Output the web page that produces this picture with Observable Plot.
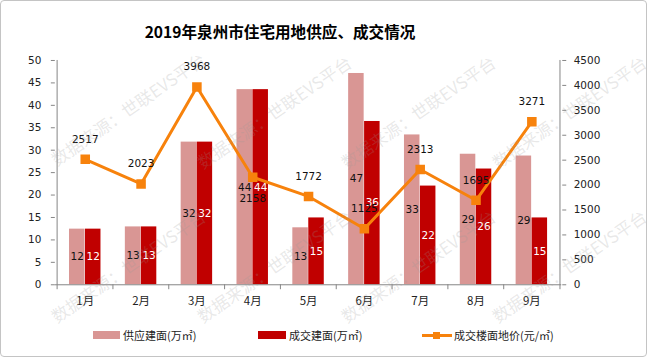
<!DOCTYPE html>
<html>
<head>
<meta charset="utf-8">
<script src="https://cdn.jsdelivr.net/npm/d3@7"></script>
<script src="https://cdn.jsdelivr.net/npm/@observablehq/plot@0.6"></script>
<style>
  html, body { margin: 0; padding: 0; background: #fff; }
  #wrap { position: relative; width: 647px; height: 357px; box-sizing: border-box; border: 1px solid #c4c4c4; border-radius: 4px; overflow: hidden; font-family: "Noto Sans CJK SC", "DejaVu Sans", sans-serif; }
  #title { position: absolute; left: 0; width: 558px; text-align: center; top: 19px; font-size: 15.6px; font-weight: bold; color: #000; }
  #chart { position: absolute; left: 0; top: 50px; }
  .lg { position: absolute; font-size: 11px; color: #222; top: 326px; line-height: 16px; }
  .sw { position: absolute; }
  .wm { position: absolute; font-size: 17px; line-height: 18px; white-space: nowrap; color: rgba(150,150,150,0.22); transform-origin: 0 50%; transform: rotate(-34.7deg); pointer-events: none; font-family: "Noto Sans CJK SC", sans-serif; }
</style>
</head>
<body>
<div id="wrap">
  <div id="title">2019年泉州市住宅用地供应、成交情况</div>
  <div id="chart"></div>
  <div class="sw" style="left:92px; top:330px; width:27px; height:8px; background:#D99694"></div>
  <div class="lg" style="left:122px">供应建面(万㎡)</div>
  <div class="sw" style="left:257px; top:330px; width:28px; height:8px; background:#C00000"></div>
  <div class="lg" style="left:288px">成交建面(万㎡)</div>
  <div class="sw" style="left:421px; top:333px; width:30px; height:3px; background:#F7820C"></div>
  <div class="sw" style="left:432px; top:331px; width:7px; height:7px; background:#F7820C"></div>
  <div class="lg" style="left:453px">成交楼面地价(元/㎡)</div>
</div>
<script>
const months = ["1月","2月","3月","4月","5月","6月","7月","8月","9月"];
const supply = [12.4, 12.9, 31.8, 43.5, 12.7, 47.1, 33.4, 29.1, 28.7];
const deal   = [12.4, 12.9, 31.8, 43.5, 14.9, 36.4, 22.0, 25.8, 14.9];
const price  = [2517, 2023, 3968, 2158, 1772, 1125, 2313, 1695, 3271];
const leftTicks = [0,5,10,15,20,25,30,35,40,45,50];
const rightTicks = [0,500,1000,1500,2000,2500,3000,3500,4000,4500];
const priceLabelBelow = ["4月"];
const watermark = "数据来源：世联EVS平台";
const priceRatio = 90; // 4500 / 50

const rows = months.map((m, i) => ({month: m, supply: supply[i], deal: deal[i], price: price[i]}));

const W = 647, ML = 54, MR = 85;
const half = (W - ML - MR) / months.length / 2;
const bw = 16;
const axisColor = "#868686";
const orange = "#F7820C";

const chart = Plot.plot({
  width: W, height: 266,
  marginLeft: ML, marginRight: MR, marginTop: 9, marginBottom: 32,
  x: {domain: months, padding: 0, axis: null},
  y: {domain: [0, 50], axis: null},
  style: {fontFamily: "'DejaVu Sans', sans-serif", fontSize: "10.5px", color: "#222", background: "transparent", overflow: "visible"},
  marks: [
    Plot.barY(rows, {x: "month", y: "supply", fill: "#D99694", insetLeft: half - bw, insetRight: half}),
    Plot.barY(rows, {x: "month", y: "deal", fill: "#C00000", insetLeft: half, insetRight: half - bw}),
    Plot.text(rows, {x: "month", y: d => d.supply / 2, text: d => String(Math.round(d.supply)), dx: -8, fill: "#111", fontSize: 10.5}),
    Plot.text(rows, {x: "month", y: d => d.deal / 2, text: d => String(Math.round(d.deal)), dx: 8, fill: "#fff", fontSize: 10.5}),
    Plot.line(rows, {x: "month", y: d => d.price / priceRatio, stroke: orange, strokeWidth: 3}),
    Plot.dot(rows, {x: "month", y: d => d.price / priceRatio, symbol: "square", r: 5.4, fill: orange}),
    Plot.text(rows.filter(d => !priceLabelBelow.includes(d.month)), {x: "month", y: d => d.price / priceRatio, text: d => String(d.price), dy: -20, fill: "#111", fontSize: 10.5}),
    Plot.text(rows.filter(d => priceLabelBelow.includes(d.month)), {x: "month", y: d => d.price / priceRatio, text: d => String(d.price), dy: 22, fill: "#111", fontSize: 10.5}),
    // axis lines
    Plot.ruleY([0], {stroke: axisColor}),
    Plot.ruleX([months[0]], {dx: -half, y1: 0, y2: 50, stroke: axisColor}),
    Plot.ruleX([months[months.length - 1]], {dx: half, y1: 0, y2: 50, stroke: axisColor}),
    Plot.ruleX(months, {dx: -half, y1: 0, y2: -1.1, stroke: axisColor}),
    Plot.ruleX([months[months.length - 1]], {dx: half, y1: 0, y2: -1.1, stroke: axisColor}),
    Plot.axisY({anchor: "left", ticks: leftTicks, tickSize: 4, tickPadding: 10, stroke: axisColor, fill: "#222", label: null}),
    Plot.axisY({anchor: "right", ticks: rightTicks.map(v => v / priceRatio), tickFormat: d => String(Math.round(d * priceRatio)), tickSize: 4, tickPadding: 8, stroke: axisColor, fill: "#222", label: null}),
    Plot.axisX({anchor: "bottom", tickSize: 0, tickPadding: 12, fontFamily: "'Noto Sans CJK SC', sans-serif", fontSize: 11.5, fill: "#222", label: null})
  ]
});
document.getElementById("chart").appendChild(chart);

// faint diagonal watermark, tiled like the original
const wrap = document.getElementById("wrap");
const wmStarts = [[52,160],[198,163],[342,163],[493,163],[52,317],[198,317],[342,317],[493,317]];
for (const [x, y] of wmStarts) {
  const s = document.createElement("div");
  s.className = "wm";
  s.textContent = watermark;
  s.style.left = x + "px";
  s.style.top = (y - 9) + "px";
  wrap.appendChild(s);
}
</script>
</body>
</html>
